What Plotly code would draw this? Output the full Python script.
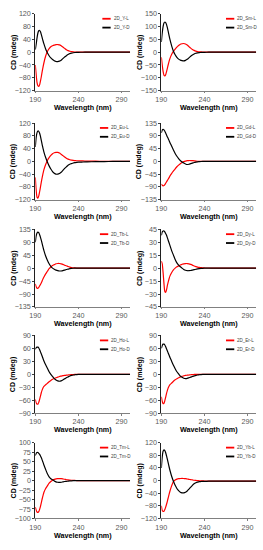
import plotly.graph_objects as go

# ---------------- data ----------------
wavelength = [190, 191, 192, 193, 194, 195, 196, 197, 198, 199, 200,
              202, 204, 206, 208, 210, 212, 214, 216, 218, 220, 222, 224, 226, 228,
              230, 232, 234, 236, 238, 240, 245, 250, 260, 270, 280, 290, 300]

Y_L = [-40, -70, -95, -105, -107, -102, -90, -76, -60, -46, -33,
       -12, 2, 11, 17, 20, 22, 23.5, 24, 23, 20, 16, 12, 8, 5,
       3, 2, 1, 0.5, 0.3, 0.2, 0, 0, 0, 0, 0, 0, 0]
Y_D = [8, 25, 45, 60, 67, 68, 64, 55, 45, 35, 26,
       10, -2, -11, -18, -23, -27, -29, -29.5, -28, -25, -20, -15, -11, -7,
       -4.5, -3, -1.8, -1, -0.5, -0.3, -0.1, 0, 0, 0, 0, 0, 0]

Sm_L = [-20, -50, -75, -90, -93, -88, -76, -62, -48, -35, -24,
        -8, 3, 12, 20, 26, 31, 33, 34, 32, 28, 22, 16, 11, 7,
        4, 2.5, 1.5, 1, 0.5, 0.3, 0, 0, 0, 0, 0, 0, 0]
Sm_D = [40, 75, 100, 114, 118, 116, 108, 95, 80, 64, 49,
        24, 4, -10, -20, -27, -31, -33, -34, -32, -28, -22, -16, -11, -7,
        -4, -2.5, -1.5, -1, -0.5, -0.3, 0, 0, 0, 0, 0, 0, 0]

Eu_L = [-50, -90, -112, -115, -108, -95, -80, -64, -50, -37, -26,
        -10, 3, 12, 19, 24, 27, 28, 28, 26, 22, 18, 14, 10, 7,
        5, 4, 3, 2.5, 2, 2, 1.5, 1, 0.5, 0.2, 0, 0, 0]
Eu_D = [45, 75, 90, 95, 94, 88, 78, 65, 52, 40, 29,
        12, -2, -14, -24, -32, -37, -40, -40, -38, -34, -28, -22, -17, -12,
        -9, -7, -5, -4, -3, -2.5, -2, -1.5, -1, -0.5, -0.2, 0, 0]

Gd_L = [-80, -84, -86, -85, -82, -77, -72, -67, -62, -57, -51,
        -42, -34, -26, -19, -13, -8, -4, -1, 1, 2.5, 3, 3, 2.5, 2,
        1, 0.5, 0.3, 0, 0, 0, 0, 0, 0, 0, 0, 0, 0]
Gd_D = [100, 110, 113, 111, 106, 100, 93, 86, 80, 73, 66,
        53, 40, 28, 18, 10, 3, -2, -6, -9, -11, -10, -8, -6, -4,
        -2.5, -1.5, -1, -0.5, -0.2, 0, 0, 0, 0, 0, 0, 0, 0]

Tb_L = [-55, -65, -70, -70, -67, -62, -57, -51, -44, -37, -31,
        -20, -11, -2, 4, 9, 12, 15, 16, 16, 15, 13, 10, 8, 5.5,
        3.5, 2, 1, 0.5, 0.2, 0, 0, 0, 0, 0, 0, 0, 0]
Tb_D = [90, 112, 122, 125, 123, 116, 107, 96, 84, 72, 61,
        42, 27, 15, 6, 0, -4, -7, -9, -10, -10, -9, -7, -5, -3.5,
        -2, -1, -0.5, -0.2, 0, 0, 0, 0, 0, 0, 0, 0, 0]

Dy_L = [8, 5, -5, -18, -27, -28, -25, -20, -16, -12, -9,
        -5, -2, 0, 1.5, 2.5, 3.5, 4.5, 5, 5.3, 5.3, 5, 4.3, 3.5, 2.5,
        1.8, 1.2, 0.8, 0.5, 0.3, 0.2, 0.1, 0, 0, 0, 0, 0, 0]
Dy_D = [38, 42, 43, 43, 42, 40, 38, 35, 32, 29, 26,
        20, 15, 10, 6, 3.5, 1.5, 0, -1.5, -2.5, -3, -3, -2.8, -2.3, -1.8,
        -1.3, -0.9, -0.6, -0.4, -0.2, -0.1, 0, 0, 0, 0, 0, 0, 0]

Ho_L = [-58, -66, -69, -69, -65, -58, -50, -42, -36, -31, -28,
        -24, -21, -17, -14, -11.5, -9.5, -8, -6.5, -5, -4, -3, -2.5, -2, -1.5,
        -1, -0.7, -0.5, -0.3, -0.2, -0.1, 0, 0, 0, 0, 0, 0, 0]
Ho_D = [58, 62, 63, 63, 61, 57, 52, 47, 42, 36, 31,
        22, 14, 6, 0, -5, -10, -13, -15, -16, -15, -13, -10.5, -8, -6,
        -4, -2.5, -1.5, -1, -0.5, -0.2, 0, 0, 0, 0, 0, 0, 0]

Er_L = [-52, -63, -68, -67, -61, -53, -44, -37, -31, -27, -24,
        -20, -16, -12.5, -10, -8, -6, -4.5, -3.5, -2.5, -2, -1.5, -1, -0.5, -0.3,
        0, 0, 0, 0, 0, 0, 0, 0, 0, 0, 0, 0, 0]
Er_D = [60, 67, 70, 70, 68, 64, 59, 54, 49, 44, 39,
        30, 21, 13, 6, 1, -4, -7, -9, -10, -9.5, -8, -6.5, -5, -3.5,
        -2.5, -1.5, -1, -0.5, -0.2, 0, 0, 0, 0, 0, 0, 0, 0]

Tm_L = [-70, -78, -83, -84, -82, -76, -68, -58, -48, -39, -31,
        -21, -14, -7, -2.5, 1, 3, 4.5, 5, 5.3, 5, 4.3, 3.5, 2.5, 1.8,
        1.2, 0.8, 0.5, 0.3, 0.1, 0, 0, 0, 0, 0, 0, 0, 0]
Tm_D = [66, 72, 74, 74, 72, 69, 65, 60, 54, 48, 41,
        29, 18, 10, 5, 2, -1, -3.5, -4.5, -5, -4.5, -3.5, -2.5, -2, -1.5,
        -1, -0.6, -0.3, -0.1, 0, 0, 0, 0, 0, 0, 0, 0, 0]

Yb_L = [-80, -95, -98, -97, -92, -84, -75, -65, -54, -43, -33,
        -16, -3, 2, 4.5, 6, 6.5, 7, 6.5, 6, 5, 4, 3, 2, 1,
        0.5, 0, -0.5, -1, -1, -1.5, -1.5, -1.5, -1.5, -1.5, -1.5, -1.5, -1.5]
Yb_D = [40, 75, 93, 97, 95, 88, 78, 67, 55, 43, 32,
        13, -2, -15, -25, -32, -37, -39, -39, -37, -33, -27, -21, -15, -10,
        -7, -5, -3.5, -3, -2.5, -2.5, -2, -2, -2, -2, -2, -2, -2]

names = ["Y", "Sm", "Eu", "Gd", "Tb", "Dy", "Ho", "Er", "Tm", "Yb"]
L_series = [Y_L, Sm_L, Eu_L, Gd_L, Tb_L, Dy_L, Ho_L, Er_L, Tm_L, Yb_L]
D_series = [Y_D, Sm_D, Eu_D, Gd_D, Tb_D, Dy_D, Ho_D, Er_D, Tm_D, Yb_D]
y_max = [120, 150, 120, 135, 135, 45, 90, 90, 100, 120]
y_step = [40, 50, 40, 45, 45, 15, 30, 30, 25, 40]
x_ticks = [190, 240, 290]

# ---------------- layout ----------------
W, H = 263, 550
col_px = [(30, 127), (159, 256)]
row_px = [(10, 88), (121, 199), (229, 308), (337, 416), (446, 523)]
RED = "#ff0000"
BLACK = "#000000"
FONT = "Liberation Sans, Arial, sans-serif"

fig = go.Figure()
annotations = []
shapes = []

for i, nm in enumerate(names):
    r, c = divmod(i, 2)
    n = i + 1
    xa = "x" if n == 1 else f"x{n}"
    ya = "y" if n == 1 else f"y{n}"
    x0, x1 = col_px[c]
    t, b = row_px[r]
    fig.add_trace(go.Scatter(x=wavelength, y=L_series[i], mode="lines", name=f"2D_{nm}-L",
                             line=dict(color=RED, width=1.2, shape="spline", smoothing=0.6),
                             xaxis=xa, yaxis=ya, showlegend=False))
    fig.add_trace(go.Scatter(x=wavelength, y=D_series[i], mode="lines", name=f"2D_{nm}-D",
                             line=dict(color=BLACK, width=1.2, shape="spline", smoothing=0.6),
                             xaxis=xa, yaxis=ya, showlegend=False))
    ym, ys = y_max[i], y_step[i]
    yt = list(range(-ym, ym + 1, ys))
    fig.layout[("xaxis" if n == 1 else f"xaxis{n}")] = dict(
        domain=[x0 / W, x1 / W], anchor=ya, range=[190, 300],
        tickvals=x_ticks, ticks="outside", ticklen=1.5, tickcolor="#808080",
        showline=True, linecolor="#808080", linewidth=1, showgrid=False, zeroline=False,
        tickfont=dict(size=7.2, color="#595959", family=FONT), fixedrange=True)
    fig.layout[("yaxis" if n == 1 else f"yaxis{n}")] = dict(
        domain=[1 - b / H, 1 - t / H], anchor=xa, range=[-ym, ym],
        tickvals=yt, ticks="outside", ticklen=2, tickcolor="#404040",
        showline=True, linecolor="#202020", linewidth=1, showgrid=False, zeroline=False,
        tickfont=dict(size=7.2, color="#595959", family=FONT), fixedrange=True)

    # axis titles
    annotations.append(dict(text="<b>Wavelength (nm)</b>", x=(x0 + x1) / 2 / W, y=1 - (b + 17) / H,
                            xref="paper", yref="paper", showarrow=False,
                            font=dict(size=7.2, color="#000000", family=FONT),
                            xanchor="center", yanchor="middle"))
    annotations.append(dict(text="<b>CD (mdeg)</b>", x=(x0 - 22) / W, y=1 - (t + b) / 2 / H,
                            xref="paper", yref="paper", showarrow=False, textangle=-90,
                            font=dict(size=7, color="#000000", family=FONT),
                            xanchor="center", yanchor="middle"))

    # legend (per panel)
    pw = x1 - x0
    ph = b - t
    for k, (lab, colr) in enumerate([(f"2D_{nm}-L", RED), (f"2D_{nm}-D", BLACK)]):
        yd = 1 - (5 + 9 * k) / ph
        txt_right = 0.965
        tw = len(lab) * 2.5
        line_end = txt_right - (tw + 1.5) / pw
        line_start = line_end - 8.5 / pw
        shapes.append(dict(type="line", xref=f"{xa} domain", yref=f"{ya} domain",
                           x0=line_start, x1=line_end, y0=yd, y1=yd,
                           line=dict(color=colr, width=1.8)))
        annotations.append(dict(text=lab, xref=f"{xa} domain", yref=f"{ya} domain",
                                x=line_end + 1 / pw, y=yd, showarrow=False,
                                xanchor="left", yanchor="middle",
                                font=dict(size=4.5, color="#404040", family=FONT)))

fig.update_layout(width=W, height=H, margin=dict(l=0, r=0, t=0, b=0),
                  paper_bgcolor="white", plot_bgcolor="white",
                  annotations=annotations, shapes=shapes, showlegend=False)

fig.write_html("out.html", config={"displayModeBar": False},
               post_script="document.body.style.margin='0';document.body.style.overflow='hidden';")
